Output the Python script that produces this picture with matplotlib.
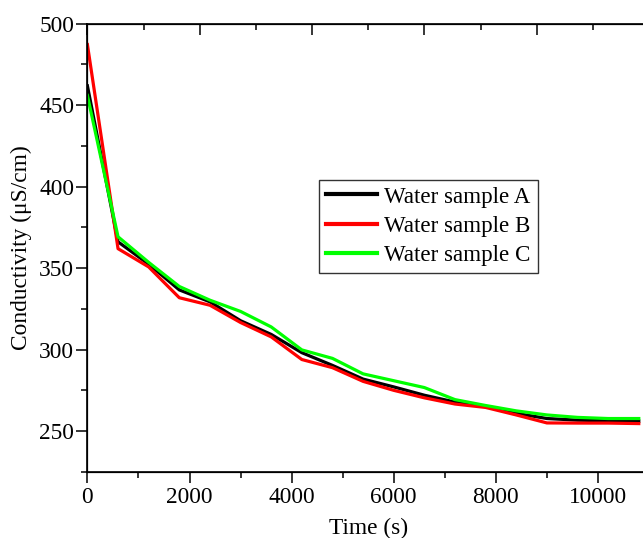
import matplotlib
matplotlib.use("Agg")
import matplotlib.pyplot as plt
from matplotlib.ticker import MultipleLocator

plt.rcParams['font.family'] = ['Liberation Serif', 'DejaVu Serif']

time_s = [0, 600, 1200, 1800, 2400, 3000, 3600, 4200, 4800, 5400, 6000,
          6600, 7200, 7800, 8400, 9000, 9600, 10200, 10800]
sample_a = [461.9, 366.2, 352.5, 336.7, 329.4, 317.8, 309.4, 298.2, 290.4, 282.0,
            277.2, 272.1, 267.9, 265.2, 261.0, 257.8, 256.8, 256.4, 256.2]
sample_b = [487.2, 362.0, 350.8, 331.9, 327.3, 316.7, 307.9, 294.0, 289.0, 280.6,
            275.1, 270.5, 266.7, 264.6, 260.0, 255.1, 255.0, 255.0, 254.7]
sample_c = [456.0, 369.3, 353.6, 338.8, 330.4, 323.5, 314.0, 299.9, 294.7, 285.2,
            281.0, 276.8, 269.4, 265.8, 262.5, 260.0, 258.5, 257.8, 257.8]
labels = ["Water sample A", "Water sample B", "Water sample C"]
colors = ["#000000", "#ff0000", "#00ff00"]

W, H = 643, 538
fig = plt.figure(figsize=(W / 100, H / 100), dpi=100)
left, right, top, bottom = 87.4, 649, 23.7, 472
ax = fig.add_axes([left / W, 1 - bottom / H, (right - left) / W, (bottom - top) / H])

for y, lab, c in zip([sample_a, sample_b, sample_c], labels, colors):
    ax.plot(time_s, y, color=c, lw=2.3, label=lab)

ax.set_xlim(0, 11000)
ax.set_ylim(225, 500)
ax.xaxis.set_major_locator(MultipleLocator(2000))
ax.xaxis.set_minor_locator(MultipleLocator(1000))
ax.yaxis.set_major_locator(MultipleLocator(50))
ax.yaxis.set_minor_locator(MultipleLocator(25))
for s in ax.spines.values():
    s.set_linewidth(1.2)

# top axis ticks (inward)
axt = ax.twiny()
axt.set_xlim(0, 10)
axt.xaxis.set_major_locator(MultipleLocator(2))
axt.xaxis.set_minor_locator(MultipleLocator(1))
axt.tick_params(axis='x', which='major', direction='in', length=8, width=1.1,
                labeltop=False, top=True)
axt.tick_params(axis='x', which='minor', direction='in', length=4, width=1.1, top=True)

# right axis ticks (inward)
axr = ax.twinx()
axr.set_ylim(0, 5)
axr.yaxis.set_major_locator(MultipleLocator(1))
axr.tick_params(axis='y', which='major', direction='in', length=3.5, width=1.1,
                labelright=False, right=True)

ax.tick_params(which='major', direction='out', length=8, width=1.1, labelsize=16.8,
               top=False, right=False)
ax.tick_params(which='minor', direction='out', length=4, width=1.1,
               top=False, right=False)
ax.tick_params(axis='y', pad=1.5)
ax.tick_params(axis='x', pad=3)

ax.set_xlabel("Time (s)", fontsize=16.8, labelpad=7)
ax.set_ylabel("Conductivity (\u03bcS/cm)", fontsize=16.8, labelpad=5)

leg = ax.legend(loc='upper left', bbox_to_anchor=((318.7 - left) / (right - left),
                                                  1 - (179.5 - top) / (bottom - top)),
                fontsize=16.6, frameon=True, fancybox=False, framealpha=1,
                edgecolor='#333333', handlelength=2.25, handletextpad=0.3,
                borderpad=0.3, labelspacing=0.35, borderaxespad=0)
leg.get_frame().set_linewidth(1.0)
for line in leg.get_lines():
    line.set_linewidth(3)

fig.savefig("out.png", dpi=100)
